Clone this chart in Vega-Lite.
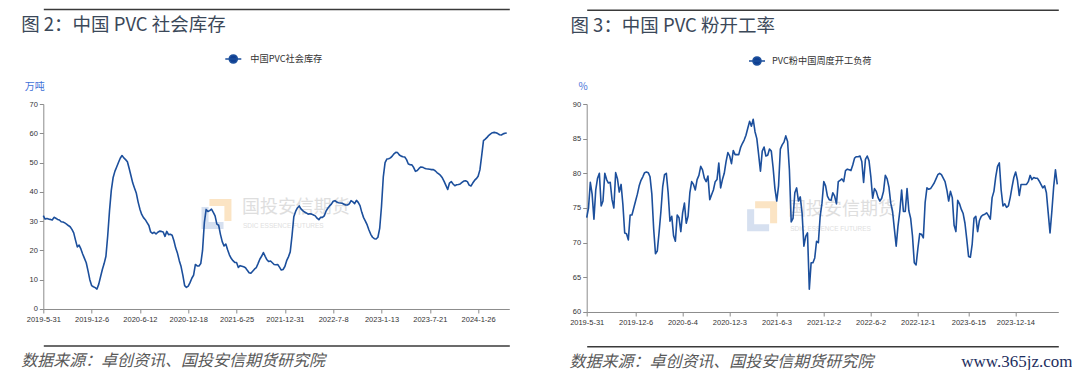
{
"$schema": "https://vega.github.io/schema/vega-lite/v6.json",
"padding": {"left": 20.3, "top": 9, "right": 0, "bottom": 0},
"spacing": 59.4,
"resolve": {"scale": {"color": "independent"}, "legend": {"color": "independent"}},
"config": {
 "view": {"stroke": null},
 "axis": {"labelFont": "Liberation Sans Narrow, Liberation Sans", "labelFontSize": 7.5, "labelColor": "#333333", "domainColor": "#8c8c8c", "tickColor": "#8c8c8c", "tickSize": 4, "grid": false, "labelPadding": 2}
},
"datasets": {"w": [
{"d":"2019-05-31","a":31.9,"b":73.6},{"d":"2019-06-07","a":30.7,"b":75.0},{"d":"2019-06-14","a":30.9,"b":78.7},{"d":"2019-06-21","a":30.7,"b":77.0},{"d":"2019-06-28","a":30.6,"b":73.4},
{"d":"2019-07-05","a":30.4,"b":77.6},{"d":"2019-07-12","a":31.3,"b":79.3},{"d":"2019-07-19","a":31.0,"b":80.0},{"d":"2019-07-26","a":30.6,"b":75.3},{"d":"2019-08-02","a":30.4,"b":76.0},
{"d":"2019-08-09","a":29.8,"b":80.0},{"d":"2019-08-16","a":29.7,"b":79.1},{"d":"2019-08-23","a":29.4,"b":78.6},{"d":"2019-08-30","a":29.0,"b":78.7},{"d":"2019-09-06","a":28.5,"b":76.2},
{"d":"2019-09-13","a":28.1,"b":75.0},{"d":"2019-09-20","a":27.2,"b":80.1},{"d":"2019-09-27","a":26.0,"b":79.2},{"d":"2019-10-04","a":23.5,"b":77.3},{"d":"2019-10-11","a":21.2,"b":78.4},
{"d":"2019-10-18","a":21.8,"b":75.5},{"d":"2019-10-25","a":20.5,"b":71.4},{"d":"2019-11-01","a":18.8,"b":71.3},{"d":"2019-11-08","a":17.3,"b":70.4},{"d":"2019-11-15","a":15.8,"b":74.0},
{"d":"2019-11-22","a":13.0,"b":74.0},{"d":"2019-11-29","a":10.0,"b":75.0},{"d":"2019-12-06","a":8.0,"b":76.0},{"d":"2019-12-13","a":7.6,"b":77.0},{"d":"2019-12-20","a":7.3,"b":78.2},
{"d":"2019-12-27","a":6.8,"b":79.0},{"d":"2020-01-03","a":8.5,"b":79.5},{"d":"2020-01-10","a":11.0,"b":80.1},{"d":"2020-01-17","a":13.5,"b":80.2},{"d":"2020-01-24","a":15.5,"b":80.1},
{"d":"2020-01-31","a":18.0,"b":79.5},{"d":"2020-02-07","a":25.0,"b":77.0},{"d":"2020-02-14","a":33.5,"b":72.0},{"d":"2020-02-21","a":40.5,"b":68.4},{"d":"2020-02-28","a":44.8,"b":68.8},
{"d":"2020-03-06","a":47.0,"b":71.5},{"d":"2020-03-13","a":48.5,"b":74.5},{"d":"2020-03-20","a":50.0,"b":78.1},{"d":"2020-03-27","a":51.5,"b":79.8},{"d":"2020-04-03","a":52.4,"b":80.0},
{"d":"2020-04-10","a":51.6,"b":77.2},{"d":"2020-04-17","a":51.0,"b":73.1},{"d":"2020-04-24","a":50.3,"b":73.8},{"d":"2020-05-01","a":48.0,"b":71.0},{"d":"2020-05-08","a":45.5,"b":70.2},
{"d":"2020-05-15","a":43.0,"b":74.0},{"d":"2020-05-22","a":41.2,"b":73.6},{"d":"2020-05-29","a":39.5,"b":71.6},{"d":"2020-06-05","a":36.5,"b":74.3},{"d":"2020-06-12","a":34.1,"b":75.7},
{"d":"2020-06-19","a":32.3,"b":72.8},{"d":"2020-06-26","a":31.2,"b":73.8},{"d":"2020-07-03","a":30.5,"b":77.2},{"d":"2020-07-10","a":29.5,"b":78.8},{"d":"2020-07-17","a":28.5,"b":78.4},
{"d":"2020-07-24","a":26.3,"b":77.6},{"d":"2020-07-31","a":25.8,"b":79.1},{"d":"2020-08-07","a":26.2,"b":79.7},{"d":"2020-08-14","a":25.6,"b":81.0},{"d":"2020-08-21","a":26.2,"b":80.5},
{"d":"2020-08-28","a":26.6,"b":79.3},{"d":"2020-09-04","a":26.5,"b":78.8},{"d":"2020-09-11","a":26.3,"b":79.6},{"d":"2020-09-18","a":24.8,"b":76.2},{"d":"2020-09-25","a":26.5,"b":76.9},
{"d":"2020-10-02","a":25.4,"b":77.6},{"d":"2020-10-09","a":25.5,"b":78.8},{"d":"2020-10-16","a":25.2,"b":79.1},{"d":"2020-10-23","a":23.3,"b":81.5},{"d":"2020-10-30","a":20.8,"b":77.9},
{"d":"2020-11-06","a":19.0,"b":79.1},{"d":"2020-11-13","a":16.5,"b":80.0},{"d":"2020-11-20","a":14.5,"b":81.7},{"d":"2020-11-27","a":11.5,"b":83.0},{"d":"2020-12-04","a":8.0,"b":82.5},
{"d":"2020-12-11","a":7.4,"b":81.4},{"d":"2020-12-18","a":7.8,"b":83.3},{"d":"2020-12-25","a":9.0,"b":82.7},{"d":"2021-01-01","a":10.5,"b":82.7},{"d":"2021-01-08","a":11.6,"b":82.7},
{"d":"2021-01-15","a":15.2,"b":83.7},{"d":"2021-01-22","a":14.7,"b":84.3},{"d":"2021-01-29","a":14.7,"b":84.8},{"d":"2021-02-05","a":15.5,"b":85.5},{"d":"2021-02-12","a":20.0,"b":86.5},
{"d":"2021-02-19","a":29.5,"b":87.5},{"d":"2021-02-26","a":34.0,"b":86.8},{"d":"2021-03-05","a":33.3,"b":87.8},{"d":"2021-03-12","a":33.6,"b":86.0},{"d":"2021-03-19","a":34.1,"b":85.0},
{"d":"2021-03-26","a":33.0,"b":82.7},{"d":"2021-04-02","a":31.8,"b":80.3},{"d":"2021-04-09","a":29.0,"b":83.2},{"d":"2021-04-16","a":28.6,"b":83.8},{"d":"2021-04-23","a":25.5,"b":82.5},
{"d":"2021-04-30","a":23.0,"b":82.6},{"d":"2021-05-07","a":21.5,"b":83.5},{"d":"2021-05-14","a":22.2,"b":83.2},{"d":"2021-05-21","a":20.2,"b":80.8},{"d":"2021-05-28","a":18.5,"b":77.8},
{"d":"2021-06-04","a":17.3,"b":76.0},{"d":"2021-06-11","a":16.5,"b":78.2},{"d":"2021-06-18","a":15.9,"b":83.5},{"d":"2021-06-25","a":15.9,"b":84.1},{"d":"2021-07-02","a":14.2,"b":84.5},
{"d":"2021-07-09","a":14.8,"b":85.4},{"d":"2021-07-16","a":14.6,"b":84.6},{"d":"2021-07-23","a":14.4,"b":80.5},{"d":"2021-07-30","a":14.1,"b":73.0},{"d":"2021-08-06","a":13.2,"b":73.5},
{"d":"2021-08-13","a":12.4,"b":77.2},{"d":"2021-08-20","a":12.2,"b":77.9},{"d":"2021-08-27","a":12.9,"b":76.0},{"d":"2021-09-03","a":13.6,"b":76.6},{"d":"2021-09-10","a":14.1,"b":74.3},
{"d":"2021-09-17","a":15.5,"b":69.5},{"d":"2021-09-24","a":17.0,"b":70.9},{"d":"2021-10-01","a":18.0,"b":71.4},{"d":"2021-10-08","a":19.3,"b":63.3},{"d":"2021-10-15","a":18.0,"b":67.1},
{"d":"2021-10-22","a":16.8,"b":67.1},{"d":"2021-10-29","a":16.2,"b":67.8},{"d":"2021-11-05","a":16.4,"b":70.2},{"d":"2021-11-12","a":15.8,"b":70.0},{"d":"2021-11-19","a":15.2,"b":73.8},
{"d":"2021-11-26","a":15.1,"b":75.7},{"d":"2021-12-03","a":15.2,"b":78.8},{"d":"2021-12-10","a":14.3,"b":78.2},{"d":"2021-12-17","a":13.3,"b":76.7},{"d":"2021-12-24","a":13.5,"b":76.2},
{"d":"2021-12-31","a":14.5,"b":76.1},{"d":"2022-01-07","a":16.5,"b":77.2},{"d":"2022-01-14","a":17.8,"b":76.7},{"d":"2022-01-21","a":19.5,"b":75.6},{"d":"2022-01-28","a":25.0,"b":78.8},
{"d":"2022-02-04","a":31.5,"b":79.0},{"d":"2022-02-11","a":33.3,"b":79.2},{"d":"2022-02-18","a":34.5,"b":78.8},{"d":"2022-02-25","a":35.2,"b":80.4},{"d":"2022-03-04","a":34.2,"b":80.6},
{"d":"2022-03-11","a":33.6,"b":80.5},{"d":"2022-03-18","a":33.1,"b":80.4},{"d":"2022-03-25","a":32.8,"b":81.2},{"d":"2022-04-01","a":32.4,"b":82.2},{"d":"2022-04-08","a":32.5,"b":82.4},
{"d":"2022-04-15","a":32.4,"b":82.4},{"d":"2022-04-22","a":32.1,"b":82.5},{"d":"2022-04-29","a":31.8,"b":81.7},{"d":"2022-05-06","a":31.0,"b":78.7},{"d":"2022-05-13","a":30.5,"b":82.0},
{"d":"2022-05-20","a":31.3,"b":82.5},{"d":"2022-05-27","a":31.3,"b":81.8},{"d":"2022-06-03","a":31.8,"b":79.5},{"d":"2022-06-10","a":33.4,"b":76.4},{"d":"2022-06-17","a":34.4,"b":77.8},
{"d":"2022-06-24","a":35.2,"b":77.4},{"d":"2022-07-01","a":35.8,"b":76.5},{"d":"2022-07-08","a":36.8,"b":76.0},{"d":"2022-07-15","a":37.0,"b":76.4},{"d":"2022-07-22","a":36.5,"b":77.4},
{"d":"2022-07-29","a":36.3,"b":79.7},{"d":"2022-08-05","a":36.2,"b":79.2},{"d":"2022-08-12","a":36.1,"b":78.0},{"d":"2022-08-19","a":35.8,"b":75.7},{"d":"2022-08-26","a":35.5,"b":74.5},
{"d":"2022-09-02","a":35.5,"b":72.0},{"d":"2022-09-09","a":35.9,"b":69.5},{"d":"2022-09-16","a":37.0,"b":72.4},{"d":"2022-09-23","a":36.6,"b":74.5},{"d":"2022-09-30","a":36.0,"b":77.6},
{"d":"2022-10-07","a":37.1,"b":74.5},{"d":"2022-10-14","a":36.4,"b":74.5},{"d":"2022-10-21","a":35.3,"b":77.8},{"d":"2022-10-28","a":33.0,"b":74.6},{"d":"2022-11-04","a":31.2,"b":73.5},
{"d":"2022-11-11","a":30.0,"b":71.0},{"d":"2022-11-18","a":28.7,"b":67.1},{"d":"2022-11-25","a":27.0,"b":66.8},{"d":"2022-12-02","a":25.5,"b":69.2},{"d":"2022-12-09","a":24.5,"b":71.3},
{"d":"2022-12-16","a":24.0,"b":71.2},{"d":"2022-12-23","a":23.9,"b":70.7},{"d":"2022-12-30","a":24.5,"b":75.8},{"d":"2023-01-06","a":27.5,"b":77.9},{"d":"2023-01-13","a":35.0,"b":77.7},
{"d":"2023-01-20","a":45.0,"b":77.8},{"d":"2023-01-27","a":50.0,"b":78.2},{"d":"2023-02-03","a":51.2,"b":78.6},{"d":"2023-02-10","a":51.3,"b":79.2},{"d":"2023-02-17","a":51.6,"b":79.8},
{"d":"2023-02-24","a":52.2,"b":80.0},{"d":"2023-03-03","a":53.0,"b":79.8},{"d":"2023-03-10","a":53.5,"b":79.3},{"d":"2023-03-17","a":53.4,"b":78.8},{"d":"2023-03-24","a":52.6,"b":77.6},
{"d":"2023-03-31","a":52.2,"b":76.0},{"d":"2023-04-07","a":52.0,"b":77.4},{"d":"2023-04-14","a":51.9,"b":76.5},{"d":"2023-04-21","a":51.0,"b":72.5},{"d":"2023-04-28","a":49.5,"b":71.6},
{"d":"2023-05-05","a":49.3,"b":76.1},{"d":"2023-05-12","a":49.2,"b":75.6},{"d":"2023-05-19","a":48.3,"b":74.8},{"d":"2023-05-26","a":47.0,"b":74.2},{"d":"2023-06-02","a":47.3,"b":72.8},
{"d":"2023-06-09","a":48.0,"b":70.5},{"d":"2023-06-16","a":48.5,"b":68.0},{"d":"2023-06-23","a":48.4,"b":67.9},{"d":"2023-06-30","a":48.1,"b":69.8},{"d":"2023-07-07","a":47.9,"b":73.5},
{"d":"2023-07-14","a":47.8,"b":73.8},{"d":"2023-07-21","a":47.7,"b":71.6},{"d":"2023-07-28","a":47.6,"b":73.2},{"d":"2023-08-04","a":47.6,"b":73.8},{"d":"2023-08-11","a":47.2,"b":74.0},
{"d":"2023-08-18","a":46.6,"b":74.1},{"d":"2023-08-25","a":46.1,"b":74.3},{"d":"2023-09-01","a":45.6,"b":73.9},{"d":"2023-09-08","a":44.8,"b":73.4},{"d":"2023-09-15","a":43.6,"b":76.5},
{"d":"2023-09-22","a":42.2,"b":77.4},{"d":"2023-09-29","a":40.8,"b":79.5},{"d":"2023-10-06","a":43.0,"b":81.0},{"d":"2023-10-13","a":43.5,"b":81.5},{"d":"2023-10-20","a":42.7,"b":77.6},
{"d":"2023-10-27","a":42.1,"b":75.3},{"d":"2023-11-03","a":42.4,"b":75.6},{"d":"2023-11-10","a":42.5,"b":75.1},{"d":"2023-11-17","a":42.7,"b":75.3},{"d":"2023-11-24","a":43.2,"b":76.5},
{"d":"2023-12-01","a":43.7,"b":78.0},{"d":"2023-12-08","a":43.8,"b":79.4},{"d":"2023-12-15","a":43.5,"b":80.2},{"d":"2023-12-22","a":42.3,"b":79.0},{"d":"2023-12-29","a":42.0,"b":76.8},
{"d":"2024-01-05","a":43.0,"b":78.4},{"d":"2024-01-12","a":43.9,"b":78.4},{"d":"2024-01-19","a":44.5,"b":78.4},{"d":"2024-01-26","a":45.3,"b":78.4},{"d":"2024-02-02","a":47.5,"b":78.8},
{"d":"2024-02-09","a":52.4,"b":79.7},{"d":"2024-02-16","a":57.5,"b":79.1},{"d":"2024-02-23","a":58.0,"b":79.4},{"d":"2024-03-01","a":58.6,"b":79.3},{"d":"2024-03-08","a":59.3,"b":79.3},
{"d":"2024-03-15","a":59.8,"b":78.9},{"d":"2024-03-22","a":60.2,"b":78.4},{"d":"2024-03-29","a":60.3,"b":77.9},{"d":"2024-04-05","a":60.2,"b":78.2},{"d":"2024-04-12","a":59.9,"b":77.2},
{"d":"2024-04-19","a":59.5,"b":74.3},{"d":"2024-04-26","a":59.4,"b":71.4},{"d":"2024-05-03","a":59.8,"b":74.5},{"d":"2024-05-10","a":60.0,"b":78.0},{"d":"2024-05-17","a":60.1,"b":80.5},
{"d":"2024-05-24","b":78.4}
]},
"hconcat": [
{
 "width": 466, "height": 205,
 "data": {"name": "w"},
 "resolve": {"axis": {"x": "independent", "y": "independent"}},
 "layer": [
  {"data": {"values": [{}]},
   "mark": {"type": "point", "shape": "M-1,-1H-0.36V0.36H1V1H-1Z", "size": 484, "filled": true, "color": "#d6e0f0", "opacity": 1, "strokeWidth": 0},
   "encoding": {"x": {"datum": {"year": 2021, "month": 3, "date": 23, "utc": true}, "type": "temporal", "axis": null},
                "y": {"datum": 31.1, "type": "quantitative", "axis": null}}},
  {"data": {"values": [{}]},
   "mark": {"type": "point", "shape": "M-1,-1H1V1H0.36V-0.36H-1Z", "size": 484, "filled": true, "color": "#fbe4c4", "opacity": 1, "strokeWidth": 0},
   "encoding": {"x": {"datum": {"year": 2021, "month": 4, "date": 23, "utc": true}, "type": "temporal", "axis": null},
                "y": {"datum": 33.8, "type": "quantitative", "axis": null}}},
  {"data": {"values": [{}]},
   "mark": {"type": "text", "text": "国投安信期货", "align": "left", "baseline": "middle", "font": "Noto Sans CJK SC", "fontSize": 18, "color": "#dedede"},
   "encoding": {"x": {"datum": {"year": 2021, "month": 7, "date": 16, "utc": true}, "type": "temporal",
                      "axis": {"orient": "top", "offset": 95, "labels": false, "ticks": false, "grid": false, "domain": true, "domainColor": "#3a3a3a", "domainWidth": 1.5,
                               "title": "图 2：中国 PVC 社会库存", "titleX": -22.6, "titleY": 15.8, "titleAlign": "left", "titleBaseline": "middle", "titleAngle": 0,
                               "titleFont": "Noto Sans CJK SC", "titleFontSize": 18.5, "titleFontWeight": "normal", "titleColor": "#3b4859",
                               "encode": {"domain": {"update": {"x": {"value": -35.3}, "x2": {"value": 483.7}}}}}},
                "y": {"datum": 34.5, "type": "quantitative", "axis": null}}},
  {"data": {"values": [{}]},
   "mark": {"type": "text", "text": "SDIC ESSENCE FUTURES", "align": "left", "baseline": "middle", "font": "Liberation Sans", "fontSize": 6.5, "color": "#e0e0e0"},
   "encoding": {"x": {"datum": {"year": 2021, "month": 7, "date": 20, "utc": true}, "type": "temporal",
                      "axis": {"orient": "bottom", "offset": 36.5, "labels": false, "ticks": false, "grid": false, "domain": true, "domainColor": "#3a3a3a", "domainWidth": 1.5,
                               "title": "数据来源：卓创资讯、国投安信期货研究院", "titleX": -22.6, "titleY": 15.5, "titleAlign": "left", "titleBaseline": "middle", "titleAngle": 0,
                               "titleFont": "Noto Sans CJK SC", "titleFontSize": 16, "titleFontWeight": "normal", "titleFontStyle": "italic", "titleColor": "#595959",
                               "encode": {"domain": {"update": {"x": {"value": -35.3}, "x2": {"value": 483.7}}}}}},
                "y": {"datum": 28.4, "type": "quantitative", "axis": null}}},
  {"mark": {"type": "line", "strokeWidth": 1.6, "strokeJoin": "round"},
   "encoding": {
    "x": {"field": "d", "type": "temporal",
          "scale": {"type": "utc", "domain": [{"year": 2019, "month": 5, "date": 31, "utc": true}, {"year": 2024, "month": 5, "date": 27, "utc": true}]},
          "axis": {"orient": "bottom", "title": null, "labelFlush": false, "labelOverlap": false, "labelPadding": 3,
                   "values": [{"year": 2019, "month": 5, "date": 31, "utc": true}, {"year": 2019, "month": 12, "date": 6, "utc": true}, {"year": 2020, "month": 6, "date": 12, "utc": true}, {"year": 2020, "month": 12, "date": 18, "utc": true}, {"year": 2021, "month": 6, "date": 25, "utc": true}, {"year": 2021, "month": 12, "date": 31, "utc": true}, {"year": 2022, "month": 7, "date": 8, "utc": true}, {"year": 2023, "month": 1, "date": 13, "utc": true}, {"year": 2023, "month": 7, "date": 21, "utc": true}, {"year": 2024, "month": 1, "date": 26, "utc": true}],
                   "labelExpr": "utcFormat(datum.value, '%Y-%-m-%-d')"}},
    "y": {"field": "a", "type": "quantitative", "scale": {"domain": [0, 70], "nice": false, "zero": false},
          "axis": {"values": [0, 10, 20, 30, 40, 50, 60, 70], "title": "万吨", "titleAngle": 0, "titleX": -9, "titleY": -18, "titleAlign": "center", "titleBaseline": "middle",
                   "titleColor": "#3f72d8", "titleFont": "Noto Sans CJK SC", "titleFontSize": 10, "titleFontWeight": "normal"}},
    "color": {"datum": "中国PVC社会库存", "type": "nominal", "scale": {"range": ["#1c4f9c"]},
              "legend": {"orient": "none", "legendX": 181, "legendY": -54, "title": null, "padding": 0,
                         "symbolType": "M-1,0H1M-0.5,0A0.5,0.5,0,1,1,0.5,0A0.5,0.5,0,1,1,-0.5,0Z", "symbolSize": 256, "symbolStrokeWidth": 1.6,
                         "labelFont": "Noto Sans CJK SC", "labelFontSize": 9.2, "labelColor": "#333333", "labelOffset": 8,
                         "encode": {"symbols": {"update": {"fill": {"value": "#0f3f92"}, "stroke": {"value": "#1c4f9c"}}}}}}
   }}
 ]
},
{
 "width": 471.6, "height": 208,
 "data": {"name": "w"},
 "resolve": {"axis": {"x": "independent", "y": "independent"}},
 "layer": [
  {"data": {"values": [{}]},
   "mark": {"type": "point", "shape": "M-1,-1H-0.36V0.36H1V1H-1Z", "size": 484, "filled": true, "color": "#d6e0f0", "opacity": 1, "strokeWidth": 0},
   "encoding": {"x": {"datum": {"year": 2021, "month": 3, "date": 24, "utc": true}, "type": "temporal",
                      "axis": {"orient": "bottom", "offset": 34.2, "labels": false, "ticks": false, "grid": false, "domain": false,
                               "title": "www.365jz.com", "titleX": 485.3, "titleY": 15.5, "titleAlign": "right", "titleBaseline": "middle", "titleAngle": 0,
                               "titleFont": "Liberation Serif", "titleFontSize": 17, "titleFontWeight": "normal", "titleColor": "#1d2e5e"}},
                "y": {"datum": 73.24, "type": "quantitative", "axis": null}}},
  {"data": {"values": [{}]},
   "mark": {"type": "point", "shape": "M-1,-1H1V1H0.36V-0.36H-1Z", "size": 484, "filled": true, "color": "#fbe4c4", "opacity": 1, "strokeWidth": 0},
   "encoding": {"x": {"datum": {"year": 2021, "month": 4, "date": 24, "utc": true}, "type": "temporal", "axis": null},
                "y": {"datum": 74.4, "type": "quantitative", "axis": null}}},
  {"data": {"values": [{}]},
   "mark": {"type": "text", "text": "国投安信期货", "align": "left", "baseline": "middle", "font": "Noto Sans CJK SC", "fontSize": 18, "color": "#dedede"},
   "encoding": {"x": {"datum": {"year": 2021, "month": 7, "date": 18, "utc": true}, "type": "temporal",
                      "axis": {"orient": "top", "offset": 94.3, "labels": false, "ticks": false, "grid": false, "domain": true, "domainColor": "#3a3a3a", "domainWidth": 1.5,
                               "title": "图 3：中国 PVC 粉开工率", "titleX": -16.7, "titleY": 15.8, "titleAlign": "left", "titleBaseline": "middle", "titleAngle": 0,
                               "titleFont": "Noto Sans CJK SC", "titleFontSize": 18.5, "titleFontWeight": "normal", "titleColor": "#3b4859",
                               "encode": {"domain": {"update": {"x": {"value": -29.7}, "x2": {"value": 488.3}}}}}},
                "y": {"datum": 74.65, "type": "quantitative", "axis": null}}},
  {"data": {"values": [{}]},
   "mark": {"type": "text", "text": "SDIC ESSENCE FUTURES", "align": "left", "baseline": "middle", "font": "Liberation Sans", "fontSize": 6.5, "color": "#e0e0e0"},
   "encoding": {"x": {"datum": {"year": 2021, "month": 7, "date": 26, "utc": true}, "type": "temporal",
                      "axis": {"orient": "bottom", "offset": 34.2, "labels": false, "ticks": false, "grid": false, "domain": true, "domainColor": "#3a3a3a", "domainWidth": 1.5,
                               "title": "数据来源：卓创资讯、国投安信期货研究院", "titleX": -17.7, "titleY": 15.5, "titleAlign": "left", "titleBaseline": "middle", "titleAngle": 0,
                               "titleFont": "Noto Sans CJK SC", "titleFontSize": 16, "titleFontWeight": "normal", "titleFontStyle": "italic", "titleColor": "#595959",
                               "encode": {"domain": {"update": {"x": {"value": -29.7}, "x2": {"value": 488.3}}}}}},
                "y": {"datum": 72.0, "type": "quantitative", "axis": null}}},
  {"mark": {"type": "line", "strokeWidth": 1.6, "strokeJoin": "round"},
   "encoding": {
    "x": {"field": "d", "type": "temporal",
          "scale": {"type": "utc", "domain": [{"year": 2019, "month": 5, "date": 31, "utc": true}, {"year": 2024, "month": 5, "date": 28, "utc": true}]},
          "axis": {"orient": "bottom", "title": null, "labelFlush": false, "labelOverlap": false, "labelPadding": 3,
                   "values": [{"year": 2019, "month": 5, "date": 31, "utc": true}, {"year": 2019, "month": 12, "date": 6, "utc": true}, {"year": 2020, "month": 6, "date": 4, "utc": true}, {"year": 2020, "month": 12, "date": 3, "utc": true}, {"year": 2021, "month": 6, "date": 3, "utc": true}, {"year": 2021, "month": 12, "date": 2, "utc": true}, {"year": 2022, "month": 6, "date": 2, "utc": true}, {"year": 2022, "month": 12, "date": 1, "utc": true}, {"year": 2023, "month": 6, "date": 15, "utc": true}, {"year": 2023, "month": 12, "date": 14, "utc": true}],
                   "labelExpr": "utcFormat(datum.value, '%Y-%-m-%-d')"}},
    "y": {"field": "b", "type": "quantitative", "scale": {"domain": [60, 90], "nice": false, "zero": false},
          "axis": {"values": [60, 65, 70, 75, 80, 85, 90], "title": "%", "titleAngle": 0, "titleX": -4, "titleY": -18, "titleAlign": "center", "titleBaseline": "middle",
                   "titleColor": "#3f72d8", "titleFont": "Noto Sans CJK SC", "titleFontSize": 10, "titleFontWeight": "normal"}},
    "color": {"datum": "PVC粉中国周度开工负荷", "type": "nominal", "scale": {"range": ["#1c4f9c"]},
              "legend": {"orient": "none", "legendX": 161.3, "legendY": -52, "title": null, "padding": 0,
                         "symbolType": "M-1,0H1M-0.5,0A0.5,0.5,0,1,1,0.5,0A0.5,0.5,0,1,1,-0.5,0Z", "symbolSize": 256, "symbolStrokeWidth": 1.6,
                         "labelFont": "Noto Sans CJK SC", "labelFontSize": 9.2, "labelColor": "#333333", "labelOffset": 6,
                         "encode": {"symbols": {"update": {"fill": {"value": "#0f3f92"}, "stroke": {"value": "#1c4f9c"}}}}}}
   }}
 ]
}
]
}
